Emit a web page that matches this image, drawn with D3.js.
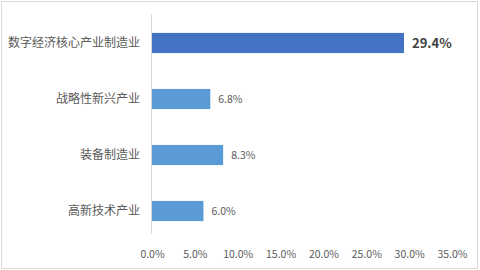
<!DOCTYPE html>
<html>
<head>
<meta charset="utf-8">
<title></title>
<script src="https://cdn.jsdelivr.net/npm/d3@7/dist/d3.min.js"></script>
<style>
  body { margin: 0; background: #fff; }
  text { font-family: "Noto Sans CJK SC", "DejaVu Sans", sans-serif; }
</style>
</head>
<body>
<div id="chart"></div>
<script>
  var categories = ["数字经济核心产业制造业", "战略性新兴产业", "装备制造业", "高新技术产业"];
  var values = [29.4, 6.8, 8.3, 6.0];
  var colors = ["#4472C4", "#5B9BD5", "#5B9BD5", "#5B9BD5"];
  var ticks = [0, 5, 10, 15, 20, 25, 30, 35];

  var svg = d3.select("#chart").append("svg")
    .attr("width", 480)
    .attr("height", 270)

  // chart frame
  svg.append("rect")
    .attr("x", 1.5).attr("y", 1.5)
    .attr("width", 476).attr("height", 267)
    .style("fill", "#fff")
    .style("stroke", "#d9d9d9")

  var x = d3.scaleLinear().domain([0, 35]).range([152, 452]);
  var y = d3.scaleBand().domain(categories).range([15, 239]).paddingInner(0.64).paddingOuter(0.32);

  // vertical axis line
  svg.append("line")
    .attr("x1", 151.5).attr("x2", 151.5)
    .attr("y1", 14).attr("y2", 234)
    .style("stroke", "#d9d9d9")

  svg.selectAll("rect.bar")
    .data(values)
    .enter().append("rect")
    .attr("class", "bar")
    .attr("x", x(0))
    .attr("y", function(d, i){ return y(categories[i]); })
    .attr("width", function(d){ return x(d) - x(0); })
    .attr("height", y.bandwidth())
    .style("fill", function(d, i){ return colors[i]; })

  // category labels
  svg.selectAll("text.cat")
    .data(categories)
    .enter().append("text")
    .attr("class", "cat")
    .attr("x", 140)
    .attr("y", function(d){ return y(d) + y.bandwidth() / 2; })
    .attr("dy", "0.35em")
    .attr("text-anchor", "end")
    .style("font-size", "12px")
    .style("fill", "#595959")
    .text(function(d){ return d; })

  // value labels
  svg.selectAll("text.val")
    .data(values)
    .enter().append("text")
    .attr("class", "val")
    .attr("x", function(d){ return x(d) + 8; })
    .attr("y", function(d, i){ return y(categories[i]) + y.bandwidth() / 2; })
    .attr("dy", "0.35em")
    .style("font-size", function(d, i){ return i == 0 ? "13px" : "10.5px"; })
    .style("font-weight", function(d, i){ return i == 0 ? "bold" : "normal"; })
    .style("fill", function(d, i){ return i == 0 ? "#404040" : "#595959"; })
    .text(function(d){ return d.toFixed(1) + "%"; })

  // x axis tick labels
  var xAxis = d3.axisBottom(x).tickValues(ticks).tickSize(0).tickPadding(0)
    .tickFormat(function(d){ return d.toFixed(1) + "%"; });
  var g = svg.append("g").attr("transform", "translate(0,251)").call(xAxis);
  g.select(".domain").remove();
  g.selectAll("text")
    .style("font-family", "'Noto Sans CJK SC', 'DejaVu Sans', sans-serif")
    .style("font-size", "10.5px")
    .style("fill", "#595959")
</script>
</body>
</html>
